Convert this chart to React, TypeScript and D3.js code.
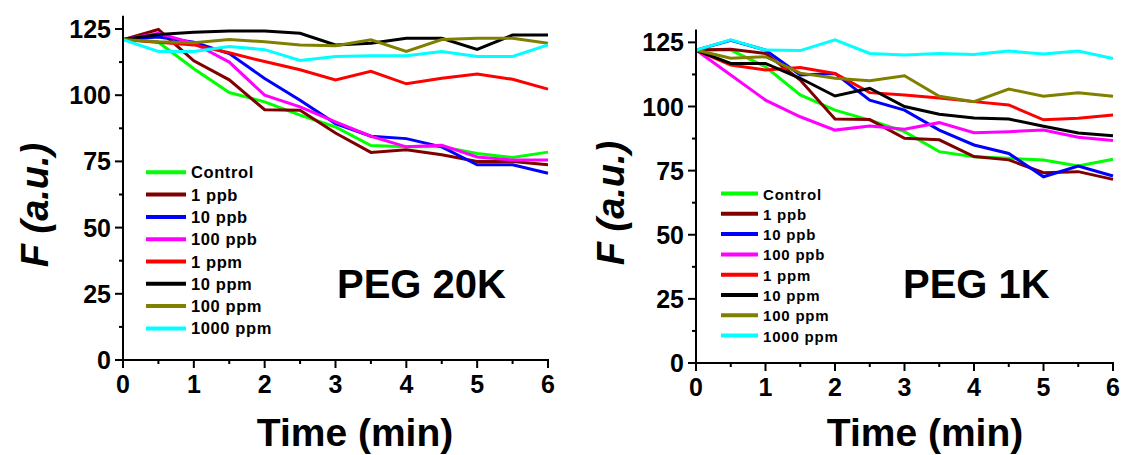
import React from "react";
import * as d3 from "d3";

const times = [0, 0.5, 1, 1.5, 2, 2.5, 3, 3.5, 4, 4.5, 5, 5.5, 6];
const seriesNames = ["Control", "1 ppb", "10 ppb", "100 ppb", "1 ppm", "10 ppm", "100 ppm", "1000 ppm"];
const seriesColors = ["#00ff00", "#800000", "#0000ff", "#ff00ff", "#ff0000", "#000000", "#808000", "#00ffff"];

// PEG 20K
const control20 = [121, 120, 110, 101, 97.5, 92.5, 88, 81, 80.5, 80.5, 78, 76.5, 78.5];
const ppb1_20 = [121, 124.8, 113, 105.8, 94.5, 94.3, 85.7, 78.4, 79.4, 77.5, 75, 75, 73.7];
const ppb10_20 = [121, 122, 120, 115.7, 106.3, 98.1, 89.3, 84.5, 83.6, 80.5, 73.7, 73.7, 70.5];
const ppb100_20 = [121, 123.4, 119.6, 112.5, 100, 95.6, 89.9, 84.5, 80.5, 81.1, 76.7, 75.5, 75.5];
const ppm1_20 = [121, 120, 119, 116, 112.7, 109.6, 105.8, 109, 104.3, 106.4, 108, 106, 102.3];
const ppm10_20 = [121, 122.9, 123.8, 124.2, 124.2, 123.4, 119, 119.6, 121.5, 121.5, 117.3, 122.7, 122.7];
const ppm100_20 = [121, 120.2, 119.8, 121, 120.2, 119, 118.7, 120.9, 116.5, 121, 121.5, 121.5, 119.6];
const ppm1000_20 = [121, 116.5, 116.5, 118.4, 117.2, 113.1, 114.6, 114.9, 114.9, 116.5, 114.6, 114.6, 119];

// PEG 1K
const control1 = [122, 122, 115.5, 104.5, 98.6, 94.7, 90.2, 82.4, 80.4, 79.8, 79.1, 76.8, 79.4];
const ppb1_1 = [122, 122.3, 120.7, 110.3, 95.1, 94.9, 87.6, 87, 80.5, 79.2, 74.2, 74.6, 71.6];
const ppb10_1 = [122, 125.8, 122, 112.3, 112.9, 102.5, 98.6, 90.8, 85, 81.7, 72.6, 76.8, 72.9];
const ppb100_1 = [122, 112.3, 102.5, 96, 90.8, 92.4, 91.1, 93.7, 89.8, 90.2, 90.8, 88, 86.7];
const ppm1_1 = [122, 116.2, 114.2, 115.2, 112.9, 105.4, 104.5, 103.3, 101.9, 100.6, 94.8, 95.4, 96.7];
const ppm10_1 = [122, 116.8, 116.8, 111, 104.1, 107.1, 100, 97, 95.5, 95.1, 92.3, 89.7, 88.6];
const ppm100_1 = [122, 118.8, 119.4, 113, 111, 110, 112, 104, 101.9, 106.8, 104, 105.4, 104];
const ppm1000_1 = [122, 126, 122, 121.8, 126, 120.7, 120.1, 120.7, 120.3, 121.6, 120.5, 121.6, 118.7];

const yMajor = [0, 25, 50, 75, 100, 125];
const yMinor = [12.5, 37.5, 62.5, 87.5, 112.5];
const xMajor = [0, 1, 2, 3, 4, 5, 6];
const xMinor = [0.5, 1.5, 2.5, 3.5, 4.5, 5.5];

const FONT = "Arial, 'Liberation Sans', sans-serif";

type PanelProps = {
  series: number[][];
  x0: number; x1: number; y0: number; y1: number;
  title: string; titleX: number; titleY: number;
  legX: number; legLineLen: number; legY: number; legStep: number; legFont: number; legSpacing: number;
  yLabelX: number; yLabelY: number; xLabelX: number;
};

function Panel(p: PanelProps) {
  const x = d3.scaleLinear().domain([0, 6]).range([p.x0, p.x1]);
  const y = d3.scaleLinear().domain([0, 130]).range([p.y0, p.y1]);
  const line = d3.line<number>().x((_, i) => x(times[i])).y((v) => y(v));
  return (
    <g>
      {p.series.map((s, i) => (
        <path key={i} d={line(s) || ""} fill="none" stroke={seriesColors[i]} strokeWidth={3} strokeLinejoin="miter" />
      ))}
      {/* axes */}
      <line x1={p.x0} x2={p.x0} y1={y(130)} y2={p.y0 + 1} stroke="#000" strokeWidth={2} />
      <line x1={p.x0 - 1} x2={p.x1 + 1} y1={p.y0} y2={p.y0} stroke="#000" strokeWidth={2} />
      {yMajor.map((t) => (
        <g key={"ym" + t}>
          <line x1={p.x0 - 8} x2={p.x0} y1={y(t)} y2={y(t)} stroke="#000" strokeWidth={2} />
          <text x={p.x0 - 12} y={y(t) + 9} textAnchor="end" fontSize={25} fontWeight="bold" fontFamily={FONT}>{t}</text>
        </g>
      ))}
      {yMinor.map((t) => (
        <line key={"yn" + t} x1={p.x0 - 4} x2={p.x0} y1={y(t)} y2={y(t)} stroke="#000" strokeWidth={2} />
      ))}
      {xMajor.map((t) => (
        <g key={"xm" + t}>
          <line x1={x(t)} x2={x(t)} y1={p.y0} y2={p.y0 + 8} stroke="#000" strokeWidth={2} />
          <text x={x(t)} y={p.y0 + 33} textAnchor="middle" fontSize={25} fontWeight="bold" fontFamily={FONT}>{t}</text>
        </g>
      ))}
      {xMinor.map((t) => (
        <line key={"xn" + t} x1={x(t)} x2={x(t)} y1={p.y0} y2={p.y0 + 4} stroke="#000" strokeWidth={2} />
      ))}
      <text x={p.xLabelX} y={446} textAnchor="middle" fontSize={39} fontWeight="bold" fontFamily={FONT}>Time (min)</text>
      <text transform={`translate(${p.yLabelX},${p.yLabelY}) rotate(-90)`} textAnchor="middle" fontSize={38} fontWeight="bold" fontStyle="italic" fontFamily={FONT}>F (a.u.)</text>
      {/* legend */}
      {seriesNames.map((n, i) => (
        <g key={n}>
          <line x1={p.legX} x2={p.legX + p.legLineLen} y1={p.legY + i * p.legStep} y2={p.legY + i * p.legStep} stroke={seriesColors[i]} strokeWidth={4} />
          <text x={p.legX + p.legLineLen + 5} y={p.legY + i * p.legStep + 6} fontSize={p.legFont} fontWeight="bold" fontFamily={FONT} letterSpacing={p.legSpacing}>{n}</text>
        </g>
      ))}
      <text x={p.titleX} y={p.titleY} fontSize={40} fontWeight="bold" fontFamily={FONT}>{p.title}</text>
    </g>
  );
}

export default function App() {
  const left = [control20, ppb1_20, ppb10_20, ppb100_20, ppm1_20, ppm10_20, ppm100_20, ppm1000_20];
  const right = [control1, ppb1_1, ppb10_1, ppb100_1, ppm1_1, ppm10_1, ppm100_1, ppm1000_1];
  return (
    <svg width={1122} height={455} style={{ position: "absolute", left: 0, top: 0, background: "#fff" }}>
      <rect width={1122} height={455} fill="#fff" />
      <Panel series={left} x0={123} x1={548} y0={360} y1={360 - 130 * 2.648}
        title="PEG 20K" titleX={337} titleY={298}
        legX={146} legLineLen={40} legY={172.3} legStep={22.3} legFont={16.5} legSpacing={0.6}
        yLabelX={48} yLabelY={205} xLabelX={355} />
      <Panel series={right} x0={696} x1={1113} y0={363} y1={363 - 130 * 2.565}
        title="PEG 1K" titleX={903} titleY={298}
        legX={721} legLineLen={37} legY={193.5} legStep={20.3} legFont={15} legSpacing={0.8}
        yLabelX={624} yLabelY={203} xLabelX={925} />
    </svg>
  );
}
